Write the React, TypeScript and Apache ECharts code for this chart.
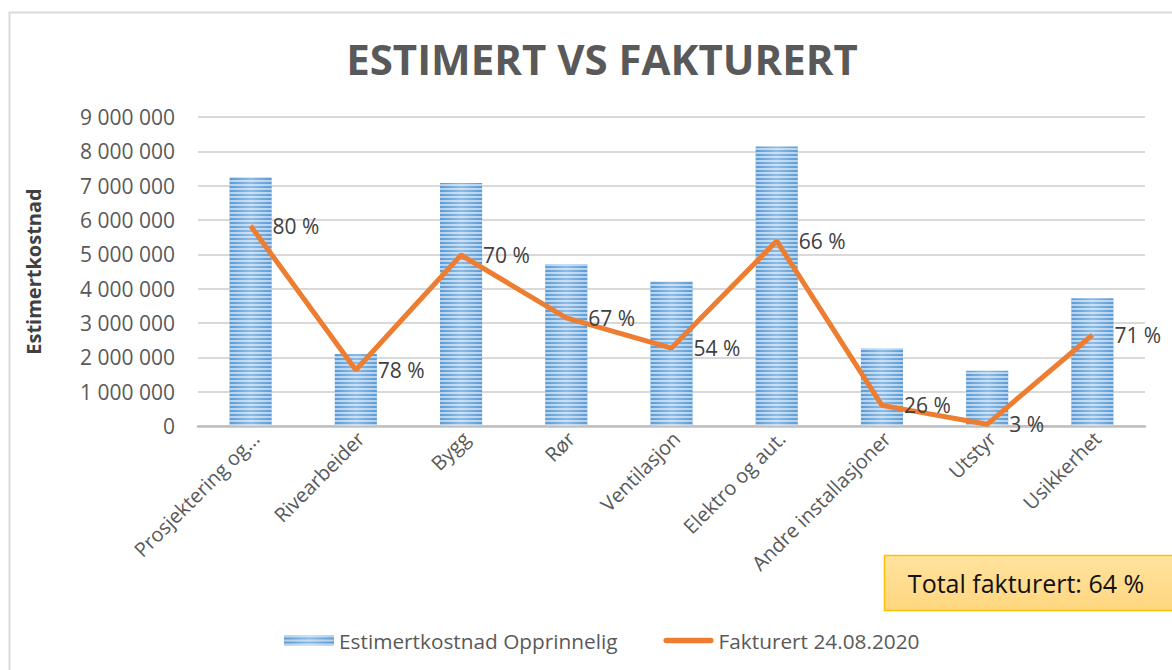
import React, { useEffect, useRef } from "react";
import * as echarts from "echarts";

const categories = [
  "Prosjektering og...",
  "Rivearbeider",
  "Bygg",
  "Rør",
  "Ventilasjon",
  "Elektro og aut.",
  "Andre installasjoner",
  "Utstyr",
  "Usikkerhet",
];
const estimert = [7240000, 2100000, 7080000, 4720000, 4200000, 8140000, 2260000, 1610000, 3720000];
const fakturert = [5830000, 1630000, 4980000, 3150000, 2270000, 5390000, 600000, 50000, 2650000];
const fakturertProsent = [80, 78, 70, 67, 54, 66, 26, 3, 71];
const yTicks = { min: 0, max: 9000000, interval: 1000000 };
const totalText = "Total fakturert: 64 %";
const seriesNames = ["Estimertkostnad Opprinnelig", "Fakturert 24.08.2020"];

const FONT = "'Open Sans', 'Noto Sans', sans-serif";

function fmt(v: number) {
  return String(v).replace(/\B(?=(\d{3})+(?!\d))/g, " ");
}

export default function App() {
  const ref = useRef<HTMLDivElement>(null);
  useEffect(() => {
    if (!ref.current) return;
    const chart = echarts.init(ref.current, undefined, { renderer: "svg" });
    const barColor = new echarts.graphic.LinearGradient(0, 0, 1, 0, [
      { offset: 0, color: "#5b9bd5" },
      { offset: 0.5, color: "#8dbbe6" },
      { offset: 1, color: "#5b9bd5" },
    ]);
    chart.setOption({
      animation: false,
      textStyle: { fontFamily: FONT },
      title: {
        text: "ESTIMERT VS FAKTURERT",
        left: 597,
        textAlign: "center",
        top: 32,
        textStyle: { fontSize: 42, fontWeight: "bold", color: "#595959", fontFamily: FONT },
      },
      grid: { left: 198, right: 27, top: 117, bottom: 244 },
      legend: {
        left: 279,
        top: 625,
        itemWidth: 50,
        itemHeight: 10,
        itemGap: 46,
        textStyle: { fontSize: 20.8, color: "#595959", fontFamily: FONT },
        data: [
          { name: seriesNames[0], icon: "rect" },
          {
            name: seriesNames[1],
            icon: "path://M0,0 M56,10 M3,2 L53,2 Q56,2 56,5 Q56,8 53,8 L3,8 Q0,8 0,5 Q0,2 3,2 Z",
          },
        ],
      },
      xAxis: {
        type: "category",
        data: categories,
        axisTick: { show: false },
        axisLine: { lineStyle: { color: "#bfbfbf", width: 2.5 } },
        axisLabel: {
          rotate: 45,
          interval: 0,
          fontSize: 20,
          color: "#595959",
          margin: 14,
          padding: [0, -7, 0, 0],
          fontFamily: FONT,
        },
      },
      yAxis: {
        type: "value",
        min: yTicks.min,
        max: yTicks.max,
        interval: yTicks.interval,
        name: "Estimertkostnad",
        nameLocation: "middle",
        nameGap: 155,
        nameTextStyle: { fontSize: 20, fontWeight: "bold", color: "#404040", fontFamily: FONT },
        axisLabel: { formatter: (v: number) => fmt(v), fontSize: 21, color: "#595959", margin: 23, fontFamily: FONT },
        splitLine: { lineStyle: { color: "#d9d9d9", width: 2 } },
        axisLine: { show: false },
        axisTick: { show: false },
      },
      series: [
        {
          name: seriesNames[0],
          type: "bar",
          data: estimert,
          barWidth: "40%",
          itemStyle: {
            color: barColor,
            decal: {
              symbol: "rect",
              symbolSize: 1,
              color: "rgba(255,255,255,0.55)",
              dashArrayX: [[10, 0]],
              dashArrayY: [1.5, 1.5],
              rotation: 0,
            },
          },
        },
        {
          name: seriesNames[1],
          type: "line",
          data: fakturert,
          symbol: "circle",
          symbolSize: 0,
          showSymbol: true,
          lineStyle: { color: "#ed7d31", width: 5 },
          itemStyle: { color: "#ed7d31" },
          z: 5,
          label: {
            show: true,
            position: "right",
            distance: 22,
            fontSize: 21,
            color: "#404040",
            fontFamily: FONT,
            formatter: (p: any) => fakturertProsent[p.dataIndex] + " %",
          },
        },
      ],
      graphic: [
        {
          type: "rect",
          shape: { x: 9.5, y: 12.5, width: 1200, height: 700 },
          style: { fill: "none", stroke: "#d9d9d9", lineWidth: 2 },
          silent: true,
        },
        {
          type: "rect",
          shape: { x: 884.5, y: 555.5, width: 320, height: 55 },
          style: {
            fill: new echarts.graphic.LinearGradient(0, 0, 0, 1, [
              { offset: 0, color: "#ffe39f" },
              { offset: 1, color: "#ffd67f" },
            ]),
            stroke: "#ffc000",
            lineWidth: 1.5,
          },
          z: 10,
        },
        {
          type: "text",
          x: 1026,
          y: 583,
          style: {
            text: totalText,
            fontSize: 25,
            fill: "#111111",
            fontFamily: FONT,
            align: "center",
            verticalAlign: "middle",
          },
          z: 11,
        },
      ],
    });
    return () => chart.dispose();
  }, []);
  return (
    <div
      ref={ref}
      style={{ position: "absolute", left: 0, top: 0, width: 1172, height: 670, background: "#fff" }}
    />
  );
}
